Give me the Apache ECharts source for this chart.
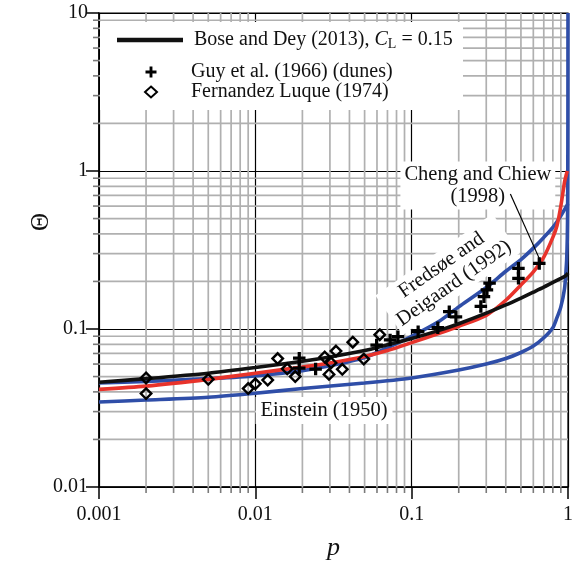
<!DOCTYPE html>
<html>
<head>
<meta charset="utf-8">
<script src="https://cdn.jsdelivr.net/npm/echarts@6/dist/echarts.min.js"></script>
<style>
  html, body { margin: 0; padding: 0; background: #fff; }
  #chart { width: 576px; height: 568px; }
</style>
</head>
<body>
<div id="chart"></div>
<script>
// Axis tick labels (one per decade)
const pTickLabels = ['0.001', '0.01', '0.1', '1'];
const thetaTickLabels = ['0.01', '0.1', '1', '10'];
// Minor grid positions: 2..9 within each decade
const minorSteps = [2, 3, 4, 5, 6, 7, 8, 9];
const pDecades = [0.001, 0.01, 0.1];
const thetaDecades = [0.01, 0.1, 1];

// Model curves, [p, Theta]
const boseDey2013 = [
  [0.001, 0.046], [0.002, 0.0485], [0.005, 0.0525], [0.01, 0.057], [0.02, 0.0625],
  [0.03, 0.0665], [0.05, 0.073], [0.07, 0.0795], [0.1, 0.087], [0.15, 0.098],
  [0.2, 0.108], [0.3, 0.126], [0.4, 0.142], [0.5, 0.157], [0.6, 0.171],
  [0.7, 0.184], [0.8, 0.197], [0.9, 0.209], [0.95, 0.215], [0.98, 0.22], [1, 0.226]
];
const fredsoeDeigaard1992 = [
  [0.001, 0.0415], [0.002, 0.0435], [0.005, 0.048], [0.01, 0.0525], [0.02, 0.0575],
  [0.03, 0.061], [0.05, 0.067], [0.07, 0.073], [0.1, 0.082], [0.15, 0.094],
  [0.2, 0.104], [0.3, 0.122], [0.4, 0.152], [0.5, 0.19], [0.6, 0.23],
  [0.7, 0.285], [0.8, 0.38], [0.85, 0.45], [0.9, 0.6], [0.95, 0.85], [0.97, 0.93], [0.99, 1.0]
];
const chengChiew1998 = [
  [0.001, 0.0455], [0.002, 0.0465], [0.005, 0.0485], [0.01, 0.0505], [0.02, 0.0545],
  [0.03, 0.0585], [0.05, 0.066], [0.07, 0.076], [0.1, 0.09], [0.15, 0.112],
  [0.2, 0.138], [0.3, 0.183], [0.4, 0.232], [0.5, 0.275], [0.6, 0.325],
  [0.7, 0.38], [0.8, 0.44], [0.9, 0.52], [0.95, 0.57], [1, 0.62]
];
const einstein1950 = [
  [0.001, 0.0345], [0.002, 0.0355], [0.005, 0.037], [0.01, 0.0392], [0.02, 0.042],
  [0.05, 0.0455], [0.1, 0.049], [0.2, 0.055], [0.3, 0.06], [0.4, 0.065],
  [0.5, 0.071], [0.6, 0.078], [0.7, 0.088], [0.8, 0.102], [0.85, 0.118],
  [0.9, 0.138], [0.95, 0.18], [0.97, 0.23], [0.98, 0.27], [0.99, 0.38],
  [0.995, 0.6], [0.998, 1.5], [0.999, 3], [0.9997, 10]
];

// Measurements, [p, Theta]
const guyDunes = [
  [0.0191, 0.0653], [0.0191, 0.0565], [0.0243, 0.0558], [0.0597, 0.0792], [0.0728, 0.0852],
  [0.0817, 0.0894], [0.11, 0.0962], [0.147, 0.102], [0.174, 0.1287], [0.192, 0.1195],
  [0.277, 0.139], [0.29, 0.16], [0.303, 0.177], [0.315, 0.195], [0.482, 0.242],
  [0.482, 0.2094], [0.655, 0.26]
];
const fernandezLuque = [
  [0.002, 0.039], [0.002, 0.049], [0.005, 0.048], [0.009, 0.042], [0.01, 0.045],
  [0.012, 0.0475], [0.0139, 0.065], [0.016, 0.056], [0.018, 0.050], [0.0278, 0.0665],
  [0.0296, 0.0516], [0.0305, 0.061], [0.0328, 0.0725], [0.036, 0.0556], [0.042, 0.0825],
  [0.0494, 0.0645], [0.0625, 0.092]
];

// Leader line from the Cheng and Chiew label to its curve
const chengLeader = [[0.428, 0.715], [0.671, 0.265]];

// Text anchors in data coordinates
const einsteinLabelAt = [0.0275, 0.0305];
const chengLabelAt = [0.265, 0.81];
const fredsoeLabelAt = [0.17, 0.222];

const FONT = '"Liberation Serif", "Times New Roman", serif';
const BLUE = '#2f4ea8';
const RED = '#e8332b';
const BLACK = '#111';

const pMinor = [];
pDecades.forEach(d => minorSteps.forEach(s => pMinor.push(+(d * s).toPrecision(3))));
const thetaMinor = [];
thetaDecades.forEach(d => minorSteps.forEach(s => thetaMinor.push(+(d * s).toPrecision(3))));

const plusPath = 'path://M-1.3,-5L1.3,-5L1.3,-1.3L5,-1.3L5,1.3L1.3,1.3L1.3,5L-1.3,5L-1.3,1.3L-5,1.3L-5,-1.3L-1.3,-1.3Z';

function minorGrid(dim, values) {
  return {
    type: 'custom',
    silent: true,
    z: 1,
    clip: false,
    data: values.map(v => (dim === 'x' ? [v, 1] : [0.01, v])),
    renderItem(params, api) {
      const cs = params.coordSys;
      const pt = api.coord([api.value(0), api.value(1)]);
      if (dim === 'x') {
        const x = pt[0], yb = cs.y + cs.height;
        return { type: 'group', children: [
          { type: 'line', shape: { x1: x, y1: cs.y, x2: x, y2: yb }, style: { stroke: '#b0b0b0', lineWidth: 1.7 } },
          { type: 'line', shape: { x1: x, y1: yb, x2: x, y2: yb + 6 }, style: { stroke: '#7a7a7a', lineWidth: 1.6 } }
        ] };
      }
      const y = pt[1], xl = cs.x;
      return { type: 'group', children: [
        { type: 'line', shape: { x1: xl, y1: y, x2: xl + cs.width, y2: y }, style: { stroke: '#b0b0b0', lineWidth: 1.7 } },
        { type: 'line', shape: { x1: xl - 6, y1: y, x2: xl, y2: y }, style: { stroke: '#7a7a7a', lineWidth: 1.6 } }
      ] };
    }
  };
}

function curve(name, data, color) {
  return {
    name, type: 'line', data, showSymbol: false, symbol: 'none',
    smooth: 0.25, z: 4, silent: true,
    lineStyle: { color, width: 3.6 }, itemStyle: { color }
  };
}

const chart = echarts.init(document.getElementById('chart'), null, { renderer: 'canvas' });

chart.setOption({
  animation: false,
  backgroundColor: '#fff',
  grid: { left: 99, right: 3, top: 13, bottom: 81, show: true, borderColor: '#000', borderWidth: 1.2, backgroundColor: 'transparent' },
  xAxis: {
    type: 'log', logBase: 10, min: 0.001, max: 1, interval: 1,
    name: 'p', nameLocation: 'middle', nameGap: 48,
    nameTextStyle: { fontFamily: FONT, fontSize: 26, fontStyle: 'italic', color: '#111' },
    axisLine: { lineStyle: { color: '#000', width: 1.5 } },
    axisTick: { length: 12, lineStyle: { color: '#000', width: 1.5 } },
    axisLabel: {
      margin: 18, fontFamily: FONT, fontSize: 20, color: '#111',
      formatter: v => pTickLabels[Math.round(Math.log10(v)) + 3]
    },
    splitLine: { show: true, lineStyle: { color: '#000', width: 1.2 } },
    minorTick: { show: false }, minorSplitLine: { show: false }
  },
  yAxis: {
    type: 'log', logBase: 10, min: 0.01, max: 10, interval: 1,
    name: 'Θ', nameLocation: 'middle', nameGap: 45, nameRotate: 90, nameMoveOverlap: false,
    nameTextStyle: { fontFamily: FONT, fontSize: 25, color: '#111', padding: [0, 0, 0, 56] },
    axisLine: { lineStyle: { color: '#000', width: 1.5 } },
    axisTick: { length: 13, lineStyle: { color: '#000', width: 1.5 } },
    axisLabel: {
      margin: 11, fontFamily: FONT, fontSize: 20, color: '#111',
      formatter: v => thetaTickLabels[Math.round(Math.log10(v)) + 2]
    },
    splitLine: { show: true, lineStyle: { color: '#000', width: 1.2 } },
    minorTick: { show: false }, minorSplitLine: { show: false }
  },
  legend: [
    {
      data: [{ name: 'Bose and Dey (2013)', icon: 'rect' }], left: 117, top: 30, padding: 0,
      itemWidth: 66, itemHeight: 4.6, selectedMode: false, z: 10,
      itemStyle: { color: BLACK },
      formatter: name => '{t|' + name + ', }{i|C}{s|L}{t| = 0.15}',
      textStyle: {
        fontFamily: FONT, fontSize: 20, color: '#111', padding: [0, 0, 0, 6],
        rich: {
          t: { fontFamily: FONT, fontSize: 20, color: '#111', lineHeight: 22, verticalAlign: 'middle' },
          i: { fontFamily: FONT, fontSize: 20, color: '#111', fontStyle: 'italic', lineHeight: 22, verticalAlign: 'middle' },
          s: { fontFamily: FONT, fontSize: 14, color: '#111', lineHeight: 11, verticalAlign: 'bottom' }
        }
      }
    },
    {
      data: ['Guy et al. (1966) (dunes)', 'Fernandez Luque (1974)'], left: 144, top: 62, padding: 0,
      orient: 'vertical', itemGap: 0, itemWidth: 12, itemHeight: 11, selectedMode: false, z: 10,
      textStyle: { fontFamily: FONT, fontSize: 20, color: '#111', lineHeight: 20, padding: [0, 0, 0, 29] }
    }
  ],
  series: [
    minorGrid('x', pMinor),
    minorGrid('y', thetaMinor),
    curve('Einstein (1950)', einstein1950, BLUE),
    curve('Cheng and Chiew (1998)', chengChiew1998, BLUE),
    curve('Fredsøe and Deigaard (1992)', fredsoeDeigaard1992, RED),
    curve('Bose and Dey (2013)', boseDey2013, BLACK),
    {
      name: 'leader', type: 'line', data: chengLeader, symbol: 'none', silent: true, z: 8,
      lineStyle: { color: '#000', width: 1.2 }
    },
    {
      name: 'Guy et al. (1966) (dunes)', type: 'scatter', data: guyDunes, z: 6, silent: true,
      symbol: plusPath, symbolSize: 12.5, itemStyle: { color: '#000', opacity: 1 }
    },
    {
      name: 'Fernandez Luque (1974)', type: 'scatter', data: fernandezLuque, z: 6, silent: true,
      symbol: 'diamond', symbolSize: 10.5,
      itemStyle: { color: 'rgba(0,0,0,0)', borderColor: '#000', borderWidth: 2.4, opacity: 1 }
    }
  ]
});

// Text labels placed from data coordinates
const toPx = pt => chart.convertToPixel({ gridIndex: 0 }, pt);
const eAt = toPx(einsteinLabelAt), cAt = toPx(chengLabelAt), fAt = toPx(fredsoeLabelAt);
const labelFont = '20.5px ' + FONT;

chart.setOption({
  graphic: [
    { type: 'rect', z: 3, silent: true, shape: { x: 100, y: 22, width: 363, height: 88 }, style: { fill: '#fff' } },
    {
      type: 'text', z: 3, silent: true, x: eAt[0], y: eAt[1],
      style: { text: 'Einstein (1950)', font: labelFont, fill: '#111', align: 'center', verticalAlign: 'middle', backgroundColor: '#fff', padding: [3, 5] }
    },
    {
      type: 'text', z: 3, silent: true, x: cAt[0], y: cAt[1],
      style: { text: 'Cheng and Chiew\n(1998)', font: labelFont, fill: '#111', align: 'center', verticalAlign: 'middle', lineHeight: 22, backgroundColor: '#fff', padding: [2, 4] }
    },
    {
      type: 'text', z: 3, silent: true, x: fAt[0], y: fAt[1], rotation: 35 * Math.PI / 180,
      style: { text: 'Fredsøe and\nDeigaard (1992)', font: labelFont, fill: '#111', align: 'center', verticalAlign: 'middle', lineHeight: 22, backgroundColor: '#fff', padding: [2, 4] }
    }
  ]
});
</script>
</body>
</html>
